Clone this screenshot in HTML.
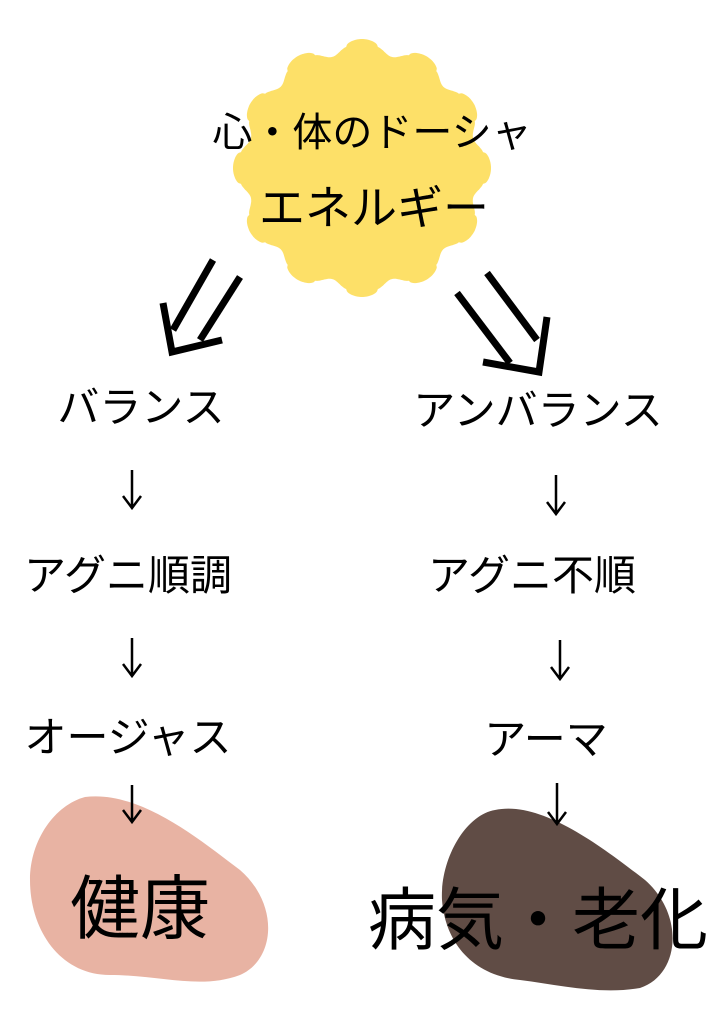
<!DOCTYPE html>
<html><head><meta charset="utf-8"><style>
body{margin:0;background:#fff;width:723px;height:1023px;overflow:hidden;position:relative;font-family:"Liberation Sans","Noto Sans CJK JP",sans-serif;color:#000}
.t{position:absolute;white-space:nowrap;line-height:1;transform:translateX(-50%)}
</style></head><body>
<svg width="723" height="1023" style="position:absolute;left:0;top:0">
<path id="sun" fill="#fde068" d=""/>
<path fill="#e8b3a3" d="M85,797 C140,790 200,840 240,870 C280,905 275,960 240,975 C200,990 160,975 110,975 C60,975 30,930 30,880 C30,840 55,805 85,797 Z"/>
<path fill="#604c45" d="M495,810 C540,800 600,845 645,880 C685,915 680,975 640,988 C600,995 560,985 520,980 C470,975 445,940 442,900 C440,860 465,815 495,810 Z"/>
<g stroke="#000" stroke-width="7" fill="none">
<line x1="213" y1="260" x2="173" y2="330"/>
<line x1="240" y1="277" x2="200" y2="340"/>
<polyline points="163,303 172,352 222,340"/>
<line x1="487" y1="273" x2="537" y2="340"/>
<line x1="457" y1="293" x2="510" y2="363"/>
<polyline points="547,317 539,372 483,362"/>
</g>
<g stroke="#000" stroke-width="2.5" fill="none">
<path d="M132,470V508M123,496L132,508L141,496"/>
<path d="M556,475V514M547,502L556,514L565,502"/>
<path d="M132,638V676M123,664L132,676L141,664"/>
<path d="M560,640V679M551,667L560,679L569,667"/>
<path d="M132,785V822M123,810L132,822L141,810"/>
<path d="M557,783V824M548,812L557,824L566,812"/>
</g>
</svg>
<script>
var d="",cx=362,cy=168;for(var i=0;i<=720;i++){var a=i*Math.PI/360,b=Math.cos(12*a),r=122+7*(b>0?Math.sqrt(b):-Math.pow(-b,1.5));d+=(i?"L":"M")+(cx+r*Math.cos(a)).toFixed(1)+","+(cy+r*Math.sin(a)).toFixed(1);}document.getElementById("sun").setAttribute("d",d+"Z");
</script>
<div class="t" style="left:372px;top:113px;font-size:40px">心・体のドーシャ</div>
<div class="t" style="left:374px;top:185px;font-size:46px">エネルギー</div>
<div class="t" style="left:141px;top:387px;font-size:42px">バランス</div>
<div class="t" style="left:538px;top:390px;font-size:42px">アンバランス</div>
<div class="t" style="left:128px;top:555px;font-size:42px">アグニ順調</div>
<div class="t" style="left:532px;top:555px;font-size:42px">アグニ不順</div>
<div class="t" style="left:128px;top:717px;font-size:42px">オージャス</div>
<div class="t" style="left:546px;top:719px;font-size:42px">アーマ</div>
<div class="t" style="left:140px;top:874px;font-size:70px">健康</div>
<div class="t" style="left:538px;top:887px;font-size:68px">病気・老化</div>
</body></html>
